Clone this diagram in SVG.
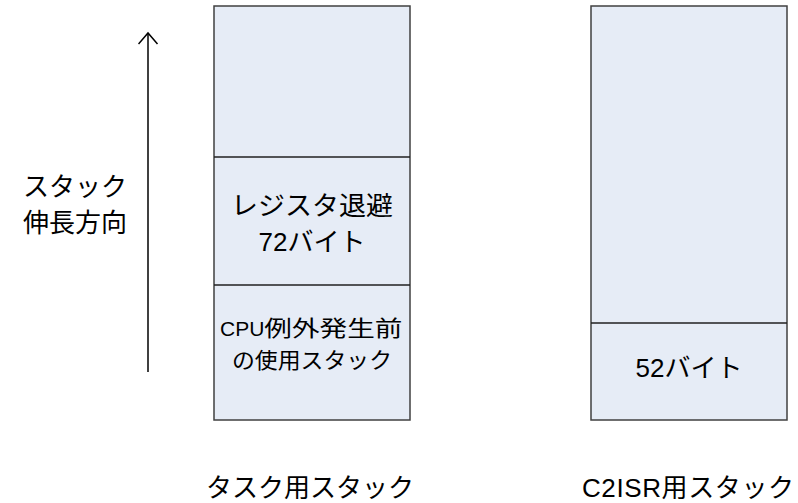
<svg xmlns="http://www.w3.org/2000/svg" width="798" height="503" viewBox="0 0 798 503">
<style>
.box{fill:#E6ECF6;stroke:#404040;stroke-width:1.5}
.div{stroke:#202020;stroke-width:1.5}
text{font-family:"Liberation Sans","Noto Sans CJK JP",sans-serif;fill:#000;text-anchor:middle}
.l{font-size:26px}
.m{font-size:26px}
.s{font-size:22px}
</style>
<defs>
<marker id="ah" markerWidth="14" markerHeight="22" refX="12" refY="10" orient="auto" markerUnits="userSpaceOnUse">
<path d="M1,0.5 L12,10 L1,19.5" fill="none" stroke="#000" stroke-width="1.5"/>
</marker>
</defs>
<g id="task-stack">
<rect class="box" x="214" y="6" width="196" height="414"/>
<line class="div" x1="214" y1="157" x2="410" y2="157"/>
<line class="div" x1="214" y1="285" x2="410" y2="285"/>
<text class="m" x="312" y="215" textLength="162" lengthAdjust="spacingAndGlyphs">レジスタ退避</text>
<text class="m" x="312" y="251">72バイト</text>
<text class="s" x="220" y="336" style="text-anchor:start"><tspan style="font-size:21px">CPU</tspan><tspan textLength="138" lengthAdjust="spacingAndGlyphs">例外発生前</tspan></text>
<text class="s" x="312" y="368" textLength="160" lengthAdjust="spacingAndGlyphs">の使用スタック</text>
<text class="l" x="310" y="497">タスク用スタック</text>
</g>
<g id="c2isr-stack">
<rect class="box" x="591" y="6" width="196" height="414"/>
<line class="div" x1="591" y1="323" x2="787" y2="323"/>
<text class="m" x="689" y="377">52バイト</text>
<text class="l" x="688" y="497" textLength="212" lengthAdjust="spacing">C2ISR用スタック</text>
</g>
<g id="direction-label">
<text class="l" x="75" y="196">スタック</text>
<text class="l" x="75" y="232">伸長方向</text>
</g>
<g id="connectors">
<line x1="148" y1="372" x2="148" y2="33" stroke="#000" stroke-width="1.5" marker-end="url(#ah)"/>
</g>
</svg>
